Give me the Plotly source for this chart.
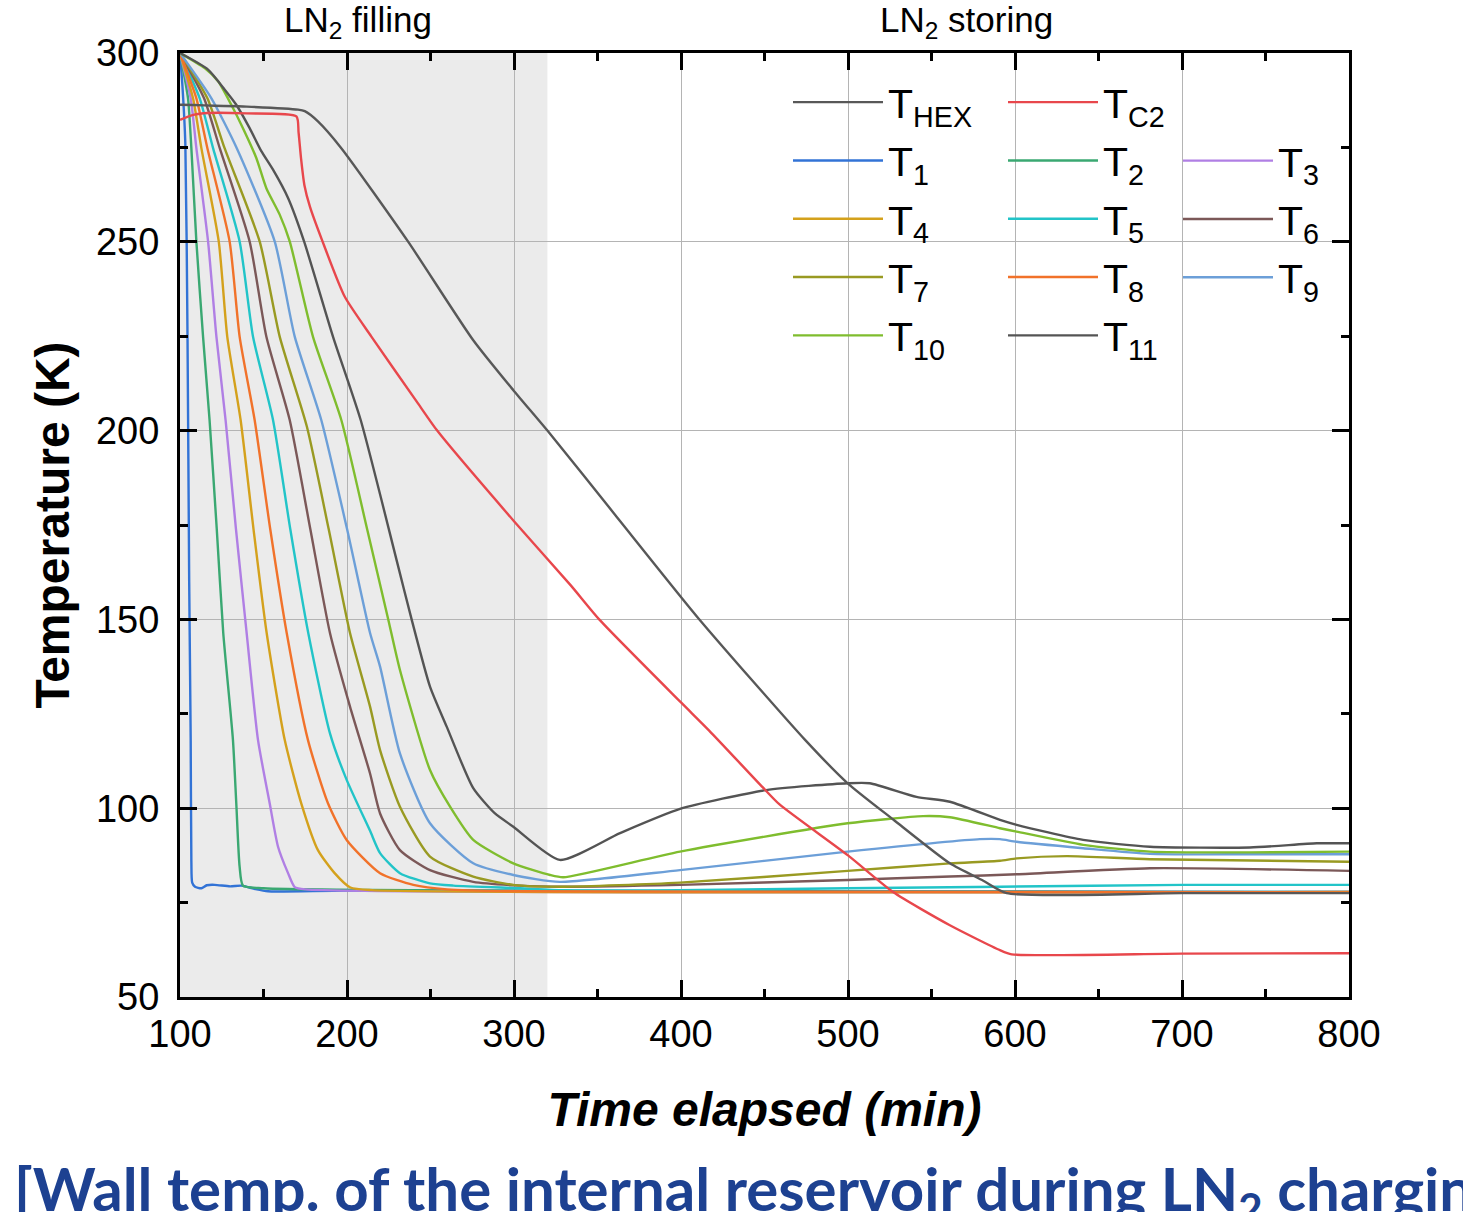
import plotly.graph_objects as go

# ---------------- data ----------------
t_hex = [100, 140, 170.7, 174.7, 182.6, 196.6, 236.5, 275.5, 299.6, 320, 360, 411, 474.3, 499.8, 527.1, 561, 581, 595, 700, 800]
T_hex = [286.3, 285.8, 285.0, 284.6, 281.9, 274.8, 250.1, 224.0, 210.7, 200.0, 178.0, 150.0, 118.1, 106.6, 97.0, 85.4, 80.8, 77.5, 77.5, 77.5]

t_c2 = [100, 108, 116.8, 140, 169.7, 171, 172.5, 174.5, 177.8, 185, 198.6, 214.6, 242.5, 254, 300, 334, 351, 400, 417, 449, 459, 500, 527, 561, 591, 598, 700, 800]
T_c2 = [282.3, 283.6, 284.1, 284.0, 283.2, 279.0, 272.0, 265.0, 259.3, 250.5, 235.5, 224.9, 207.2, 200.0, 176.0, 159.0, 150.0, 128.0, 120.5, 105.5, 101.0, 87.5, 77.8, 69.0, 62.4, 61.3, 61.5, 61.6]

t_1 = [100, 101.5, 103.2, 104.5, 105.5, 106.4, 106.8, 107.3, 109, 112.8, 116, 120.8, 130, 136.7, 145, 152.7, 200, 800]
T_1 = [300, 291, 276, 225, 160, 118, 86, 80.3, 79.2, 78.8, 79.6, 79.7, 79.3, 79.5, 78.6, 78.0, 78.2, 77.8]

t_2 = [100, 104.8, 106.8, 109.8, 113.8, 117.7, 122, 125.9, 131.7, 133.7, 135.7, 137.7, 150, 800]
T_2 = [300, 288, 274.8, 250.1, 224.9, 202.8, 174, 146.4, 118.1, 101.3, 84.5, 79.5, 78.8, 77.8]

t_3 = [100, 106.4, 109.8, 116.8, 121.8, 127.3, 133.5, 139.9, 146.7, 153.7, 158.7, 164.7, 168.7, 175, 800]
T_3 = [300, 288, 274.8, 250.1, 224.9, 202.8, 174, 146.4, 118.1, 101.3, 89.8, 82.8, 79.1, 78.5, 77.8]

t_4 = [100, 107.8, 112.8, 123.2, 128.3, 136.3, 144, 151.9, 162.7, 172.6, 182.6, 192.6, 202, 215, 800]
T_4 = [300, 288, 274.8, 250.1, 224.9, 202.8, 174, 146.4, 118.1, 101.3, 88.9, 82.8, 79.0, 78.3, 77.8]

t_5 = [100, 111.8, 119.8, 135.7, 143.7, 155.7, 166, 176.8, 189.8, 199.8, 213.8, 219.8, 231.7, 249.7, 263.7, 303.6, 329.5, 399.4, 499.8, 591, 700.8, 800]
T_5 = [300, 288, 274.8, 250.1, 224.9, 202.8, 174, 146.4, 119.8, 107.5, 94.0, 88.1, 82.8, 80.1, 79.5, 78.8, 78.3, 78.3, 78.8, 79.2, 79.7, 79.7]

t_6 = [100, 114.4, 123.8, 141.7, 151.7, 165.7, 178, 189.8, 201.8, 213.8, 219.8, 231.7, 249.7, 275.6, 303.6, 329.5, 399.4, 499.8, 561, 601, 680.8, 800]
T_6 = [300, 288, 274.8, 250.1, 224.9, 202.8, 174, 146.4, 126.9, 109.2, 98.6, 88.9, 83.6, 80.5, 79.5, 79.2, 79.7, 81.0, 81.9, 82.5, 84.1, 83.4]

t_7 = [100, 116.4, 126.7, 147.7, 159.7, 176, 189, 201.8, 213.8, 219.8, 231.7, 249.7, 275.6, 299.6, 329.5, 399.4, 499.8, 561, 591, 601, 631, 680.8, 800]
T_7 = [300, 288, 274.8, 250.1, 224.9, 201, 174, 146.4, 126.9, 115.4, 100.4, 87.2, 81.9, 79.7, 79.2, 80.3, 83.4, 85.4, 86.1, 86.7, 87.3, 86.5, 85.8]

t_8 = [100, 109.8, 116.4, 129.7, 135.7, 144.7, 154, 163.9, 176.6, 188.6, 199.8, 219.8, 239.7, 260, 300, 800]
T_8 = [300, 288, 274.8, 250.1, 224.9, 202.8, 174, 146.4, 118.1, 101.3, 91.6, 82.8, 79.7, 78.5, 78.0, 77.7]

t_9 = [100, 118.8, 134, 156.7, 168.7, 184.6, 200, 213.8, 219.8, 231.7, 249.7, 275.6, 299.6, 327.5, 399.4, 499.8, 579, 591, 601, 640.8, 680.8, 740.7, 800]
T_9 = [300, 288, 274.8, 250.1, 224.9, 202.8, 174, 146.4, 137.5, 114.5, 96.0, 85.4, 82.3, 80.5, 83.6, 88.5, 91.8, 91.8, 91.1, 89.4, 87.9, 87.8, 87.8]

t_10 = [100, 114.8, 122.8, 130.7, 137.7, 145.7, 151.7, 159.7, 165.7, 179.6, 196.6, 212, 224.7, 231.7, 249.7, 261.7, 275.6, 299.6, 321.6, 329.5, 399.4, 499.8, 545, 561, 591, 601, 640.8, 680.8, 740.7, 800]
T_10 = [300, 296, 292.5, 286.3, 280.1, 272.2, 264.2, 257.2, 250.1, 224.9, 202.8, 174, 150, 136.6, 110.1, 100.4, 91.6, 85.4, 82.3, 81.7, 88.5, 96.0, 97.9, 97.6, 94.7, 93.8, 90.3, 88.5, 88.3, 88.5]

t_11 = [100, 116.8, 126.8, 133.7, 141.7, 148.7, 155.7, 164.7, 174.3, 191.6, 208.2, 229.7, 238.7, 249.7, 259.7, 275.6, 288.6, 299.6, 327.5, 363.5, 399.4, 451, 499.8, 513, 541, 561, 591, 601, 640.8, 680.8, 740.7, 780.7, 800]
T_11 = [300, 295.6, 290.3, 286.3, 280.1, 274.0, 269.1, 261.6, 250.1, 224.9, 202.8, 165.7, 150.0, 132.2, 121.6, 105.3, 98.6, 95.1, 86.3, 93.4, 99.8, 104.8, 106.6, 106.6, 103.0, 101.7, 96.9, 95.6, 91.6, 89.8, 89.6, 90.7, 90.7]

x_ticks = [100, 200, 300, 400, 500, 600, 700, 800]
y_ticks = [50, 100, 150, 200, 250, 300]
filling_end = 320

# (name, times, temps, colour, legend column)
series = [
    ("T<sub>HEX</sub>", t_hex, T_hex, "#585858", "legend"),
    ("T<sub>C2</sub>", t_c2, T_c2, "#e8474c", "legend2"),
    ("T<sub>1</sub>", t_1, T_1, "#3273d6", "legend"),
    ("T<sub>2</sub>", t_2, T_2, "#3aa872", "legend2"),
    ("T<sub>3</sub>", t_3, T_3, "#b07fe4", "legend3"),
    ("T<sub>4</sub>", t_4, T_4, "#d4a11c", "legend"),
    ("T<sub>5</sub>", t_5, T_5, "#22c4c8", "legend2"),
    ("T<sub>6</sub>", t_6, T_6, "#7b5858", "legend3"),
    ("T<sub>7</sub>", t_7, T_7, "#999a22", "legend"),
    ("T<sub>8</sub>", t_8, T_8, "#f1722a", "legend2"),
    ("T<sub>9</sub>", t_9, T_9, "#6c9fd8", "legend3"),
    ("T<sub>10</sub>", t_10, T_10, "#7fbd2e", "legend"),
    ("T<sub>11</sub>", t_11, T_11, "#545454", "legend2"),
]

FONT = "Liberation Sans, Arial, sans-serif"

fig = go.Figure()
# draw order: T1..T11 first, then red and THEX on top
order = [2, 3, 4, 5, 6, 7, 8, 9, 10, 11, 12, 1, 0]
for i in order:
    name, tx, ty, col, leg = series[i]
    fig.add_trace(go.Scatter(
        x=tx, y=ty, mode="lines", name=name,
        line=dict(color=col, width=2.4, shape="spline", smoothing=0.6),
        legend=leg, legendgroup=name, legendrank=i,
    ))

# shaded filling period (below gridlines)
fig.add_shape(type="rect", xref="x", yref="paper", x0=100, x1=filling_end, y0=0, y1=1,
              fillcolor="#ebebeb", line=dict(width=0), layer="below")
# white legend panel over gridlines
fig.add_shape(type="rect", xref="paper", yref="paper",
              x0=(785 - 180) / 1169, x1=(1332 - 180) / 1169,
              y0=(997 - 374) / 944, y1=(997 - 74) / 944,
              fillcolor="white", line=dict(width=0), layer="between")

axis_common = dict(
    showline=True, linecolor="black", linewidth=3, mirror="ticks",
    ticks="inside", ticklen=17, tickwidth=3, tickcolor="black",
    showgrid=True, gridcolor="#b4b4b4", gridwidth=1.4, zeroline=False,
    tickfont=dict(family=FONT, size=38, color="black"),
)

fig.update_xaxes(
    range=[100, 800], tickvals=x_ticks, ticktext=[str(v) for v in x_ticks],
    minor=dict(dtick=50, ticklen=8, tickwidth=3, tickcolor="black", ticks="inside", showgrid=False),
    ticklabelstandoff=1,
    title=dict(text="<b><i>Time elapsed (min)</i></b>", font=dict(family=FONT, size=48, color="black"), standoff=39),
    **axis_common,
)
fig.update_yaxes(
    range=[50, 300], tickvals=y_ticks, ticktext=[str(v) for v in y_ticks],
    minor=dict(dtick=25, ticklen=8, tickwidth=3, tickcolor="black", ticks="inside", showgrid=False),
    ticklabelstandoff=10,
    title=dict(text="<b>Temperature (K)</b>", font=dict(family=FONT, size=48, color="black"), standoff=12),
    **axis_common,
)

leg_common = dict(
    xanchor="left", yanchor="top", bgcolor="rgba(0,0,0,0)", borderwidth=0,
    font=dict(family=FONT, size=41, color="black"),
    traceorder="grouped", tracegroupgap=2, itemwidth=90, orientation="v",
)
row_top = (997 - 69) / 944
row_h = 58.5 / 944
fig.update_layout(
    legend=dict(x=(788 - 180) / 1169, y=row_top, **leg_common),
    legend2=dict(x=(1003 - 180) / 1169, y=row_top, **leg_common),
    legend3=dict(x=(1178 - 180) / 1169, y=row_top - row_h, **leg_common),
)

fig.add_annotation(text="LN<sub>2</sub> filling", xref="paper", yref="paper",
                   x=(358 - 180) / 1169, y=(997 - 22) / 944, xanchor="center", yanchor="middle",
                   showarrow=False, font=dict(family=FONT, size=35, color="black"))
fig.add_annotation(text="LN<sub>2</sub> storing", xref="paper", yref="paper",
                   x=(966 - 180) / 1169, y=(997 - 22) / 944, xanchor="center", yanchor="middle",
                   showarrow=False, font=dict(family=FONT, size=35, color="black"))
fig.add_annotation(text="<b>[Wall temp. of the internal reservoir during LN<sub>2</sub> charging]</b>",
                   xref="paper", yref="paper", x=(12 - 180) / 1169, y=(997 - 1192) / 944,
                   xanchor="left", yanchor="middle", showarrow=False,
                   font=dict(family="Lato, Open Sans, sans-serif", size=60, color="#1d4191"))

fig.update_layout(
    width=1463, height=1212,
    margin=dict(l=180, r=114, t=53, b=215),
    paper_bgcolor="white", plot_bgcolor="white",
    showlegend=True,
)

fig.write_html("out.html")
